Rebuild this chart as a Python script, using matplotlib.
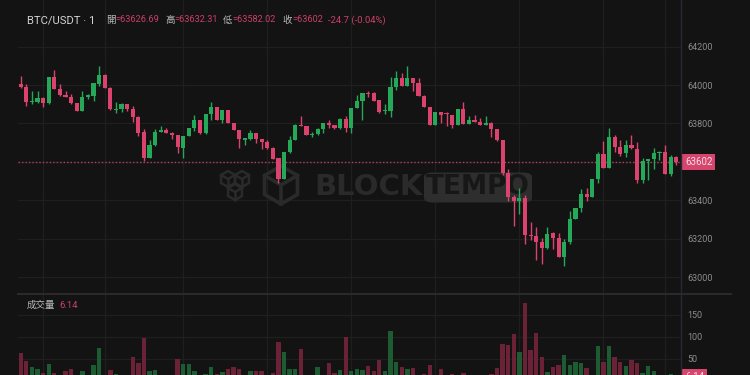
import matplotlib
matplotlib.use('Agg')
import matplotlib.pyplot as plt
import numpy as np
from matplotlib.patches import FancyBboxPatch, Polygon
from matplotlib.lines import Line2D

plt.rcParams['font.family'] = ['Roboto', 'Noto Sans CJK TC', 'DejaVu Sans']

# ---------------- data ----------------
opens = [64004, 63988, 63912, 63912, 63934, 63905, 64042, 63979, 63950, 63940,
         63905, 63867, 63938, 63943, 64005, 64054, 63986, 63872, 63873, 63901,
         63875, 63832, 63756, 63623, 63687, 63757, 63766, 63753, 63740, 63675,
         63735, 63779, 63817, 63749, 63848, 63886, 63818, 63870, 63802, 63766,
         63718, 63718, 63749, 63721, 63706, 63675, 63619, 63512, 63650, 63713,
         63794, 63787, 63742, 63746, 63772, 63803, 63792, 63775, 63825, 63776,
         63879, 63919, 63960, 63959, 63920, 63863, 63867, 63990, 64037, 63997,
         64035, 64010, 63945, 63886, 63792, 63860, 63853, 63844, 63792, 63875,
         63798, 63818, 63808, 63792, 63805, 63773, 63714, 63544, 63417, 63397,
         63415, 63221, 63214, 63183, 63152, 63229, 63207, 63108, 63183, 63304,
         63359, 63434, 63420, 63510, 63642, 63571, 63728, 63680, 63645, 63688,
         63668, 63507, 63605, 63614, 63647, 63654, 63538, 63626.69]
highs = [64047, 64005, 63971, 63971, 63940, 64042, 64076, 64004, 63971, 63952,
         63908, 63967, 63952, 64010, 64099, 64056, 63988, 63910, 63908, 63903,
         63891, 63839, 63773, 63714, 63770, 63789, 63775, 63754, 63741, 63736,
         63779, 63844, 63818, 63849, 63912, 63887, 63871, 63872, 63804, 63767,
         63723, 63766, 63750, 63722, 63714, 63676, 63620, 63651, 63735, 63795,
         63839, 63788, 63756, 63779, 63802, 63818, 63793, 63826, 63839, 63880,
         63948, 63960, 63969, 63962, 63921, 63901, 64043, 64073, 64064, 64099,
         64036, 64035, 63946, 63887, 63862, 63862, 63862, 63845, 63876, 63910,
         63839, 63844, 63830, 63839, 63806, 63774, 63715, 63562, 63429, 63467,
         63429, 63287, 63261, 63204, 63261, 63238, 63230, 63200, 63347, 63360,
         63460, 63463, 63511, 63654, 63709, 63775, 63740, 63714, 63714, 63740,
         63706, 63622, 63615, 63671, 63655, 63688, 63636, 63632.31]
lows = [63986, 63893, 63900, 63905, 63888, 63903, 63978, 63945, 63939, 63903,
        63865, 63865, 63926, 63919, 63995, 63985, 63872, 63853, 63862, 63867,
        63808, 63735, 63605, 63620, 63685, 63755, 63749, 63720, 63649, 63623,
        63734, 63761, 63744, 63747, 63818, 63817, 63801, 63800, 63765, 63675,
        63687, 63716, 63701, 63666, 63666, 63616, 63493, 63510, 63649, 63712,
        63788, 63738, 63728, 63740, 63753, 63775, 63774, 63774, 63758, 63749,
        63878, 63818, 63940, 63918, 63853, 63850, 63836, 63974, 63996, 63996,
        63971, 63944, 63885, 63791, 63791, 63804, 63789, 63778, 63791, 63797,
        63797, 63807, 63791, 63791, 63732, 63709, 63532, 63399, 63268, 63328,
        63174, 63195, 63091, 63070, 63146, 63146, 63105, 63062, 63174, 63303,
        63342, 63399, 63419, 63489, 63570, 63570, 63654, 63631, 63628, 63670,
        63489, 63493, 63507, 63562, 63610, 63537, 63527, 63582.02]
closes = [63988, 63912, 63919, 63934, 63905, 64042, 63979, 63948, 63940, 63905,
          63867, 63938, 63948, 64009, 64054, 63986, 63874, 63876, 63903, 63874,
          63832, 63753, 63623, 63687, 63758, 63765, 63753, 63740, 63676, 63735,
          63779, 63818, 63749, 63848, 63886, 63818, 63870, 63801, 63766, 63718,
          63721, 63749, 63721, 63706, 63675, 63617, 63512, 63650, 63713, 63794,
          63789, 63739, 63747, 63772, 63801, 63792, 63775, 63825, 63777, 63879,
          63919, 63959, 63953, 63919, 63862, 63870, 63990, 64037, 63997, 64035,
          64010, 63945, 63886, 63792, 63862, 63844, 63848, 63792, 63875, 63798,
          63818, 63808, 63792, 63805, 63773, 63714, 63541, 63417, 63397, 63415,
          63221, 63214, 63183, 63152, 63228, 63207, 63108, 63183, 63304, 63359,
          63434, 63420, 63510, 63642, 63571, 63728, 63680, 63642, 63688, 63671,
          63507, 63605, 63614, 63647, 63654, 63538, 63624, 63602]
volumes = [63, 44, 31, 27, 18, 37, 17, 8, 22, 27,
           6, 22, 5, 35, 74, 8, 25, 15, 8, 10,
           53, 40, 98, 23, 24, 7, 14, 6, 49, 39,
           38, 23, 5, 15, 31, 15, 20, 27, 30, 27,
           6, 23, 21, 21, 8, 18, 89, 66, 27, 27,
           71, 7, 5, 30, 7, 40, 18, 24, 99, 23,
           27, 24, 33, 21, 46, 22, 113, 42, 30, 27,
           29, 6, 15, 36, 6, 26, 6, 15, 6, 17,
           5, 5, 5, 5, 15, 29, 84, 80, 106, 65,
           177, 69, 108, 53, 20, 31, 35, 58, 36, 42,
           41, 29, 6, 78, 42, 78, 54, 42, 34, 47,
           40, 17, 33, 22, 6, 6, 15, 6.14]

price_ticks = [63000, 63200, 63400, 63800, 64000, 64200]
price_grid = [63000, 63200, 63400, 63600, 63800, 64000, 64200]
volume_ticks = [50, 100, 150]
time_grid_idx = [4, 15, 29, 44, 59, 74, 89, 104, 115]
symbol = 'BTC/USDT · 1'
ohlc_labels = ['開', '高', '低', '收']
volume_label = '成交量'

# ---------------- style ----------------
BG = '#131313'
GRID = '#1f1f1f'
UP = '#25a857'
DN = '#db426e'
VUP = '#1d5c33'
VDN = '#6b2236'
TXT = '#8c8c8c'

W, H = 750, 375
def fx(x): return x / W
def fy(y): return 1 - y / H

fig = plt.figure(figsize=(7.5, 3.75), dpi=100, facecolor=BG)
ax = fig.add_axes([fx(18), fy(294), (681 - 18) / W, 294 / H])
axv = fig.add_axes([fx(18), fy(380.7), (681 - 18) / W, 86.7 / H])
for a in (ax, axv):
    a.set_facecolor(BG)
    for s in a.spines.values():
        s.set_visible(False)
    a.set_xlim(-0.48, 117.84)
    a.set_xticks([])
    a.yaxis.tick_right()
    a.tick_params(axis='y', length=0, pad=4.3, labelsize=6.5, labelcolor=TXT)

o = np.array(opens, float); c = np.array(closes, float)
h = np.array(highs, float); l = np.array(lows, float)
x = np.arange(len(o))
up = c >= o
colors = np.where(up, UP, DN)
vcolors = np.where(up, VUP, VDN)

ax.set_ylim(62914.2, 64441.6)
ax.set_yticks(price_ticks)
ax.set_yticklabels([str(v) for v in price_ticks])
for p in price_grid:
    ax.axhline(p, color=GRID, lw=0.9, zorder=0)
for i in time_grid_idx:
    ax.axvline(i, color=GRID, lw=0.9, zorder=0)
    axv.axvline(i, color=GRID, lw=0.9, zorder=0)

# watermark
wm = '#2a2a2a'
def hexpts(cx, cy, r):
    pts = []
    for k in range(6):
        ang = np.deg2rad(90 + 60 * k)
        pts.append((fx(cx + r * np.cos(ang)), fy(cy - r * np.sin(ang))))
    return pts
def cube(cx, cy, r, lw):
    ax.add_patch(Polygon(hexpts(cx, cy, r), closed=True, fill=False, ec=wm, lw=lw,
                         transform=fig.transFigure, zorder=0.5))
    for ang in (270, 30, 150):
        a_ = np.deg2rad(ang)
        ax.add_line(Line2D([fx(cx), fx(cx + r * np.cos(a_))],
                           [fy(cy), fy(cy - r * np.sin(a_))], color=wm, lw=lw,
                           transform=fig.transFigure, zorder=0.5))
cube(281, 185, 19, 2.6)
cube(228, 179, 8, 1.8)
cube(242, 179, 8, 1.8)
cube(235, 192, 8, 1.8)
ax.text(fx(314), fy(187), 'BLOCK', transform=fig.transFigure, color=wm,
        fontsize=21, fontweight='bold', family='DejaVu Sans', va='center', ha='left', zorder=0.5)
ax.add_patch(FancyBboxPatch((fx(427), fy(201)), fx(102), 27 / H,
                            boxstyle='round,pad=0.004,rounding_size=0.012', fc='#2e2e2e', ec='none',
                            transform=fig.transFigure, zorder=0.5))
ax.text(fx(478), fy(187.5), 'TEMPO', transform=fig.transFigure, color='#171717',
        fontsize=19, fontweight='bold', family='DejaVu Sans', va='center', ha='center', zorder=0.6)

# candles
diff = np.abs(c - o)
bh = np.maximum(diff, 6)
bb = np.minimum(o, c) - (bh - diff) / 2
ax.vlines(x, l, h, colors=colors, lw=1.0, zorder=2)
ax.bar(x, bh, bottom=bb, width=0.74, color=colors, linewidth=0, zorder=3)

# last price line & label
last = closes[-1]
ax.axhline(last, color='#b2405f', lw=1.0, linestyle=(0, (1, 1.5)), zorder=1.5)
ax.text(1.006, last, str(last), transform=ax.get_yaxis_transform(), color='#f3dde4',
        fontsize=7, va='center', ha='left', zorder=5, clip_on=False,
        bbox=dict(boxstyle='square,pad=0.3', fc='#d6456d', ec='none'))

# volume
axv.set_ylim(0, 197)
axv.set_yticks(volume_ticks)
axv.set_yticklabels([str(v) for v in volume_ticks])
for v in volume_ticks:
    axv.axhline(v, color=GRID, lw=0.9, zorder=0)
axv.bar(x, volumes, width=0.78, color=vcolors, linewidth=0, zorder=2)
axv.text(1.006, volumes[-1] + 2, str(volumes[-1]), transform=axv.get_yaxis_transform(), color='#f3dde4',
         fontsize=7, va='center', ha='left', zorder=5, clip_on=False,
         bbox=dict(boxstyle='square,pad=0.3', fc='#d6456d', ec='none'))

# borders
fig.add_artist(Line2D([fx(681), fx(681)], [0, 1], color='#262833', lw=1.0))
fig.add_artist(Line2D([fx(18), fx(731)], [fy(294), fy(294)], color='#2a2a2a', lw=1.5))

# header
LBL = '#b9b9b9'
VAL = '#cc4069'
fig.text(fx(27), fy(20), symbol, color='#d2d2d2', fontsize=8.1, va='center')
vals = [opens[-1], highs[-1], lows[-1], closes[-1]]
lx = [106, 165, 222.7, 282.7]
for lab, v, px_ in zip(ohlc_labels, vals, lx):
    fig.text(fx(px_), fy(20), lab, color=LBL, fontsize=6.8, va='center')
    fig.text(fx(px_ + 9.3), fy(20), '=' + str(v), color=VAL, fontsize=6.6, va='center')
chg = closes[-1] - opens[-1]
pct = chg / opens[-1] * 100
fig.text(fx(328.5), fy(20), f'{chg:.1f} ({pct:.2f}%)', color=VAL, fontsize=6.8, va='center')

fig.text(fx(27), fy(305.7), volume_label, color=LBL, fontsize=6.8, va='center')
fig.text(fx(59), fy(305.7), str(volumes[-1]), color=VAL, fontsize=6.8, va='center')

fig.savefig('out.png', dpi=100, facecolor=BG)
